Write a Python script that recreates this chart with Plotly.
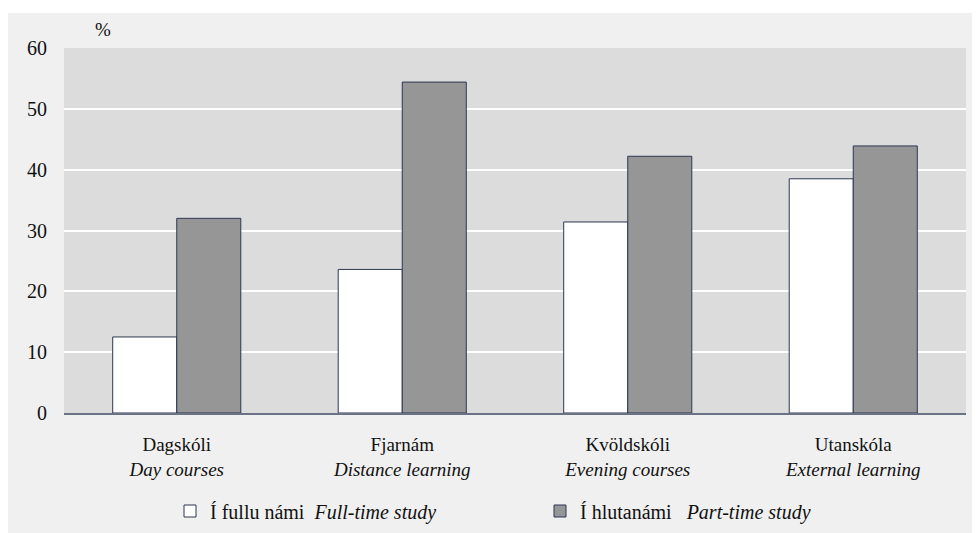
import plotly.graph_objects as go

categories = ["Dagskóli<br><i>Day courses</i>",
              "Fjarnám<br><i>Distance learning</i>",
              "Kvöldskóli<br><i>Evening courses</i>",
              "Utanskóla<br><i>External learning</i>"]
full_time = [12.5, 23.6, 31.4, 38.5]
part_time = [32.0, 54.4, 42.2, 43.9]
series_names = ["Í fullu námi  <i>Full-time study</i>",
                "Í hlutanámi   <i>Part-time study</i>"]
y_ticks = [0, 10, 20, 30, 40, 50, 60]

FONT = "Liberation Serif, Times New Roman, serif"
W, H = 980, 533
OFF = 8  # page body margin in the screenshot
ML, MR, MT, MB = 56, 22, 40, 128
PW, PH = W - ML - MR, H - MT - MB

def px(x):  # screen x -> paper
    return (x - OFF - ML) / PW

def py(y):  # screen y -> paper
    return (H - MB - (y - OFF)) / PH

def cx(x):  # screen x -> container
    return (x - OFF) / W

def cy(y):  # screen y -> container
    return 1 - (y - OFF) / H

fig = go.Figure()
fig.add_trace(go.Bar(x=categories, y=full_time, name=series_names[0],
                     marker=dict(color="#ffffff", line=dict(color="#2e3752", width=1)),
                     legend="legend", showlegend=True))
fig.add_trace(go.Bar(x=categories, y=part_time, name=series_names[1],
                     marker=dict(color="#969696", line=dict(color="#2e3752", width=1)),
                     legend="legend2", showlegend=True))

legend_common = dict(orientation="h", bgcolor="rgba(0,0,0,0)",
                     font=dict(family=FONT, size=20, color="#111111"),
                     xref="container", yref="container",
                     xanchor="left", yanchor="middle", itemclick=False,
                     itemdoubleclick=False)

fig.update_layout(
    width=W, height=H,
    margin=dict(l=ML, r=MR, t=MT, b=MB, autoexpand=False),
    paper_bgcolor="#f0f0f0", plot_bgcolor="#dcdcdc",
    barmode="group", bargap=0.432, bargroupgap=0,
    showlegend=True,
    font=dict(family=FONT, size=20, color="#111111"),
    xaxis=dict(showgrid=False, showline=True, linecolor="#6c7286", linewidth=2,
               ticks="outside", ticklen=13, tickcolor="rgba(0,0,0,0)",
               tickfont=dict(family=FONT, size=19, color="#111111")),
    yaxis=dict(range=[0, 60], tickvals=y_ticks, showgrid=True, gridcolor="#ffffff",
               gridwidth=2, zeroline=False, ticks="outside", ticklen=12,
               tickcolor="rgba(0,0,0,0)",
               tickfont=dict(family=FONT, size=20, color="#111111")),
    legend=dict(x=cx(170), y=cy(511), **legend_common),
    legend2=dict(x=cx(540), y=cy(511), **legend_common),
    annotations=[dict(text="%", x=px(103), y=py(30), xref="paper", yref="paper",
                      xanchor="center", yanchor="middle",
                      showarrow=False, font=dict(family=FONT, size=19, color="#111111"))],
    shapes=[
        dict(type="rect", xref="paper", yref="paper", layer="below",
             x0=px(OFF), x1=px(W + OFF), y0=py(13), y1=py(OFF),
             fillcolor="#ffffff", line=dict(width=0)),
    ],
)

fig.write_html("out.html")
